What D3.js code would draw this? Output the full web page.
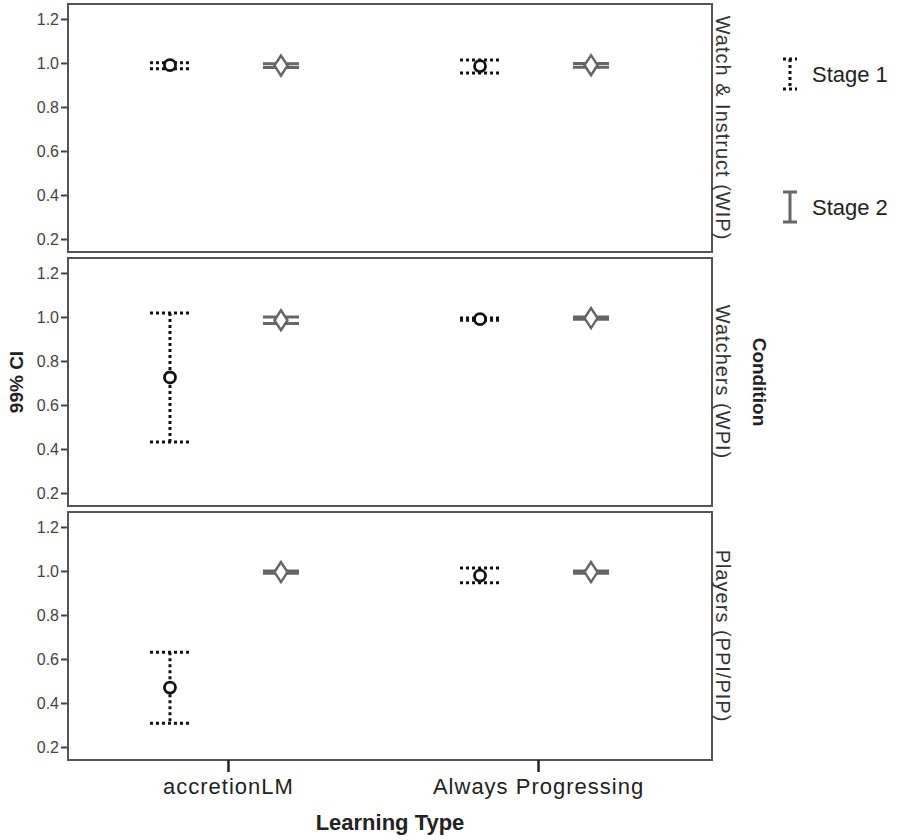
<html> <head>
<script src="https://d3js.org/d3.v7.min.js"></script>
<style>
  body { margin: 0; background: #fff; }
  text { font-family: "Liberation Sans", Arial, sans-serif; }
</style>
</head>
<body>
<div id="chart"></div>
<script>

// data
const conditions = ["Watch & Instruct (WIP)", "Watchers (WPI)", "Players (PPI/PIP)"];
const types = ["accretionLM", "Always Progressing"];
const stages = ["Stage 1", "Stage 2"];
const yTicks = [0.2, 0.4, 0.6, 0.8, 1.0, 1.2];
// per condition: [accretionLM S1, accretionLM S2, Always Progressing S1, Always Progressing S2]
const means = [[0.990, 0.988, 0.986, 0.990], [0.725, 0.985, 0.990, 0.995], [0.470, 0.995, 0.979, 0.995]];
const lower = [[0.974, 0.979, 0.955, 0.981], [0.432, 0.970, 0.985, 0.990], [0.308, 0.990, 0.946, 0.990]];
const upper = [[1.001, 0.997, 1.013, 0.998], [1.018, 1.000, 0.995, 1.000], [0.631, 1.000, 1.013, 1.000]];

// constants
const W = 898, H = 840;
const panel = {left: 68, right: 712, top: 4, height: 248, gap: 6};
const grey = "#666";
const font = "Liberation Sans, Arial, sans-serif";

const svg = d3.select("#chart").append("svg").attr("width", W).attr("height", H);

const x = d3.scalePoint().domain(types).range([panel.left, panel.right - 14]).padding(0.516);
const dodge = d3.scalePoint().domain(stages).range([-58, 53]);
const y = d3.scaleLinear().domain([0.141, 1.268]).range([panel.height, 0]);

const diamond = "M0,-10L6.5,0L0,10L-6.5,0Z";

const drawStage1 = (g, cx, lo, hi, m, cap) => {
  const ln = (x1, y1, x2, y2) => g.append("line")
    .attr("x1", x1).attr("y1", y1).attr("x2", x2).attr("y2", y2)
    .attr("stroke", "#111").attr("stroke-width", 3).attr("stroke-dasharray", "3,3");
  ln(cx, hi, cx, lo);
  ln(cx - cap, hi, cx + cap, hi);
  ln(cx - cap, lo, cx + cap, lo);
  if (m !== null)
    g.append("circle").attr("cx", cx).attr("cy", m).attr("r", 5.5)
      .attr("fill", "#fff").attr("stroke", "#111").attr("stroke-width", 2.8);
};

const drawStage2 = (g, cx, lo, hi, m, cap) => {
  const ln = (x1, y1, x2, y2) => g.append("line")
    .attr("x1", x1).attr("y1", y1).attr("x2", x2).attr("y2", y2)
    .attr("stroke", grey).attr("stroke-width", 3);
  ln(cx, hi, cx, lo);
  ln(cx - cap, hi, cx + cap, hi);
  ln(cx - cap, lo, cx + cap, lo);
  if (m !== null)
    g.append("path").attr("d", diamond).attr("transform", `translate(${cx},${m})`)
      .attr("fill", "#fff").attr("stroke", grey).attr("stroke-width", 2.5);
};

conditions.forEach((cond, ci) => {
  const top = panel.top + ci * (panel.height + panel.gap);
  const g = svg.append("g").attr("transform", `translate(0,${top})`);

  // y axis
  const ax = g.append("g").attr("transform", `translate(${panel.left},0)`)
    .call(d3.axisLeft(y).tickValues(yTicks).tickFormat(d3.format(".1f")).tickSize(7).tickPadding(2));
  ax.select(".domain").remove();
  ax.selectAll(".tick line").attr("stroke", "#444").attr("stroke-width", 2);
  ax.selectAll(".tick text").attr("fill", "#444").style("font-size", "16px").style("font-family", font);

  // frame
  g.append("rect").attr("x", panel.left).attr("y", 0)
    .attr("width", panel.right - panel.left).attr("height", panel.height)
    .attr("fill", "none").attr("stroke", "#555").attr("stroke-width", 2);

  // strip label
  g.append("text")
    .attr("transform", `translate(${panel.right + 4},${panel.height / 2}) rotate(90)`)
    .attr("text-anchor", "middle").style("letter-spacing", "1px")
    .attr("fill", "#333").style("font-size", "20px").text(cond);

  // error bars
  types.forEach((t, ti) => {
    stages.forEach((s, si) => {
      const k = ti * 2 + si;
      const cx = x(t) + dodge(s);
      if (si === 0) drawStage1(g, cx, y(lower[ci][k]), y(upper[ci][k]), y(means[ci][k]), 20);
      else drawStage2(g, cx, y(lower[ci][k]), y(upper[ci][k]), y(means[ci][k]), 18);
    });
  });
});

// x axis
const bottom = panel.top + 3 * panel.height + 2 * panel.gap;
const xa = svg.append("g").attr("transform", `translate(0,${bottom})`)
  .call(d3.axisBottom(x).tickSize(12).tickPadding(6));
xa.select(".domain").remove();
xa.selectAll(".tick line").attr("stroke", "#222").attr("stroke-width", 2.5);
xa.selectAll(".tick text").attr("fill", "#222").style("font-size", "22px")
  .style("letter-spacing", "1px").style("font-family", font);

// axis titles
svg.append("text").attr("x", (panel.left + panel.right) / 2).attr("y", 830)
  .attr("text-anchor", "middle").attr("font-weight", "bold").style("font-size", "22px")
  .attr("fill", "#222").text("Learning Type");

svg.append("text").attr("transform", `translate(23,${(panel.top + bottom) / 2}) rotate(-90)`)
  .attr("text-anchor", "middle").attr("font-weight", "bold").style("font-size", "19px")
  .attr("fill", "#222").text("99% CI");

svg.append("text").attr("transform", `translate(753,${(panel.top + bottom) / 2}) rotate(90)`)
  .attr("text-anchor", "middle").attr("font-weight", "bold").style("font-size", "19px")
  .attr("fill", "#222").text("Condition");

// legend
const legend = svg.append("g").attr("transform", "translate(790,0)");
const ly = d3.scalePoint().domain(stages).range([74, 207]);
stages.forEach((s, si) => {
  const cy = ly(s);
  if (si === 0) drawStage1(legend, 0, cy + 15, cy - 15, null, 7);
  else drawStage2(legend, 0, cy + 15, cy - 15, null, 7);
  legend.append("text").attr("x", 22).attr("y", cy).attr("dy", "0.35em")
    .attr("fill", "#222").style("font-size", "22px").text(s);
});

</script> </body></html>
